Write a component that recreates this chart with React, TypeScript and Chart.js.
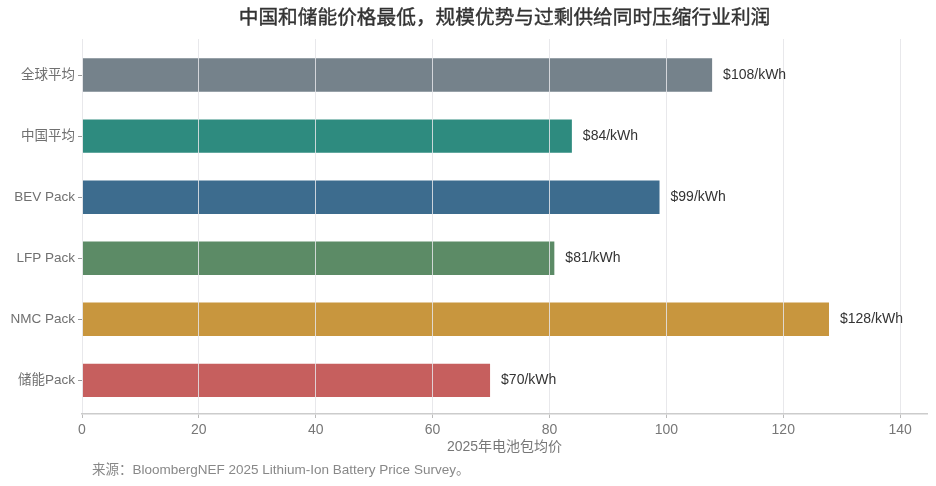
import React, { useEffect, useRef } from 'react';
import { Chart, registerables } from 'chart.js';
Chart.register(...registerables);

const categories = ['全球平均', '中国平均', 'BEV Pack', 'LFP Pack', 'NMC Pack', '储能Pack'];
const prices = [108, 84, 99, 81, 128, 70];
const barColors = ['#75828B', '#2E8B7F', '#3D6C8E', '#5C8B66', '#C8963E', '#C65F5E'];
const xTicks = [0, 20, 40, 60, 80, 100, 120, 140];

const titleText = '中国和储能价格最低，规模优势与过剩供给同时压缩行业利润';
const xTitle = '2025年电池包均价';
const sourceText = '来源：BloombergNEF 2025 Lithium-Ion Battery Price Survey。';

const FONT = '"Liberation Sans", "Noto Sans CJK SC", sans-serif';

export default function App(): React.ReactElement {
  const canvasRef = useRef<HTMLCanvasElement | null>(null);
  const chartRef = useRef<Chart | null>(null);

  useEffect(() => {
    document.body.style.margin = '0';
    if (!canvasRef.current) return;
    const ctx = canvasRef.current.getContext('2d');
    if (!ctx) return;
    if (chartRef.current) chartRef.current.destroy();

    const textPlugin = {
      id: 'texts',
      afterDraw(chart: any) {
        const c = chart.ctx;
        const area = chart.chartArea;
        const xs = chart.scales.x;
        const ys = chart.scales.y;
        c.save();
        // value labels
        c.fillStyle = '#333333';
        c.font = `14px ${FONT}`;
        c.textAlign = 'left';
        c.textBaseline = 'middle';
        prices.forEach((v, i) => {
          c.fillText(`$${v}/kWh`, xs.getPixelForValue(v) + 10, ys.getPixelForValue(i));
        });
        // title, regular weight with a thin stroke for a medium look
        c.fillStyle = '#333333';
        c.strokeStyle = '#333333';
        c.lineWidth = 0.4;
        c.font = `normal 400 19.7px "Noto Sans CJK SC", sans-serif`;
        c.textAlign = 'center';
        const tx = (area.left + area.right) / 2;
        c.fillText(titleText, tx, 17);
        c.strokeText(titleText, tx, 17);
        // x axis title
        c.fillStyle = '#777777';
        c.font = `14px ${FONT}`;
        c.fillText(xTitle, tx, 447);
        // source
        c.fillStyle = '#888888';
        c.font = `13.5px ${FONT}`;
        c.textAlign = 'left';
        c.fillText(sourceText, 92, 470);
        c.restore();
      },
    };

    chartRef.current = new Chart(ctx, {
      type: 'bar',
      data: {
        datasets: [
          {
            data: prices.map((v, i) => ({ x: v, y: i })),
            backgroundColor: barColors,
            borderColor: 'rgba(255,255,255,0.7)',
            borderWidth: 1,
            barPercentage: 0.58,
            categoryPercentage: 1,
          },
        ],
      },
      options: {
        indexAxis: 'y',
        responsive: false,
        animation: false,
        layout: { padding: { top: 39, right: 9, left: 0, bottom: 0 } },
        plugins: {
          legend: { display: false },
          tooltip: { enabled: false },
        },
        scales: {
          x: {
            type: 'linear',
            min: 0,
            max: 144.6,
            afterBuildTicks: (s: any) => {
              s.ticks = xTicks.map((v) => ({ value: v }));
            },
            afterFit: (s: any) => {
              s.height = 72;
            },
            grid: {
              z: 1,
              color: 'rgba(228,228,232,0.85)',
              lineWidth: 1,
              drawTicks: true,
              tickLength: 4,
              tickColor: '#bbbbbb',
            },
            border: { display: true, color: '#cccccc', width: 1.5, z: 2 },
            ticks: {
              color: '#777777',
              font: { family: FONT, size: 14 },
              padding: 4,
              maxRotation: 0,
            },
          },
          y: {
            type: 'linear',
            min: -0.59,
            max: 5.55,
            reverse: true,
            offset: false,
            afterBuildTicks: (s: any) => {
              s.ticks = categories.map((_, i) => ({ value: i }));
            },
            afterFit: (s: any) => {
              s.width = 82;
            },
            grid: {
              offset: false,
              drawOnChartArea: false,
              drawTicks: true,
              tickLength: 4,
              tickColor: '#999999',
            },
            border: { display: false },
            ticks: {
              color: '#707070',
              font: { family: FONT, size: 13.5 },
              padding: 3,
              callback: (v: any) => categories[Math.round(Number(v))] ?? '',
            },
          },
        },
      },
      plugins: [textPlugin],
    });

    return () => {
      if (chartRef.current) {
        chartRef.current.destroy();
        chartRef.current = null;
      }
    };
  }, []);

  return (
    <div style={{ width: 936, height: 486, background: '#ffffff' }}>
      <canvas ref={canvasRef} width={936} height={486} style={{ width: 936, height: 486, display: 'block' }} />
    </div>
  );
}
